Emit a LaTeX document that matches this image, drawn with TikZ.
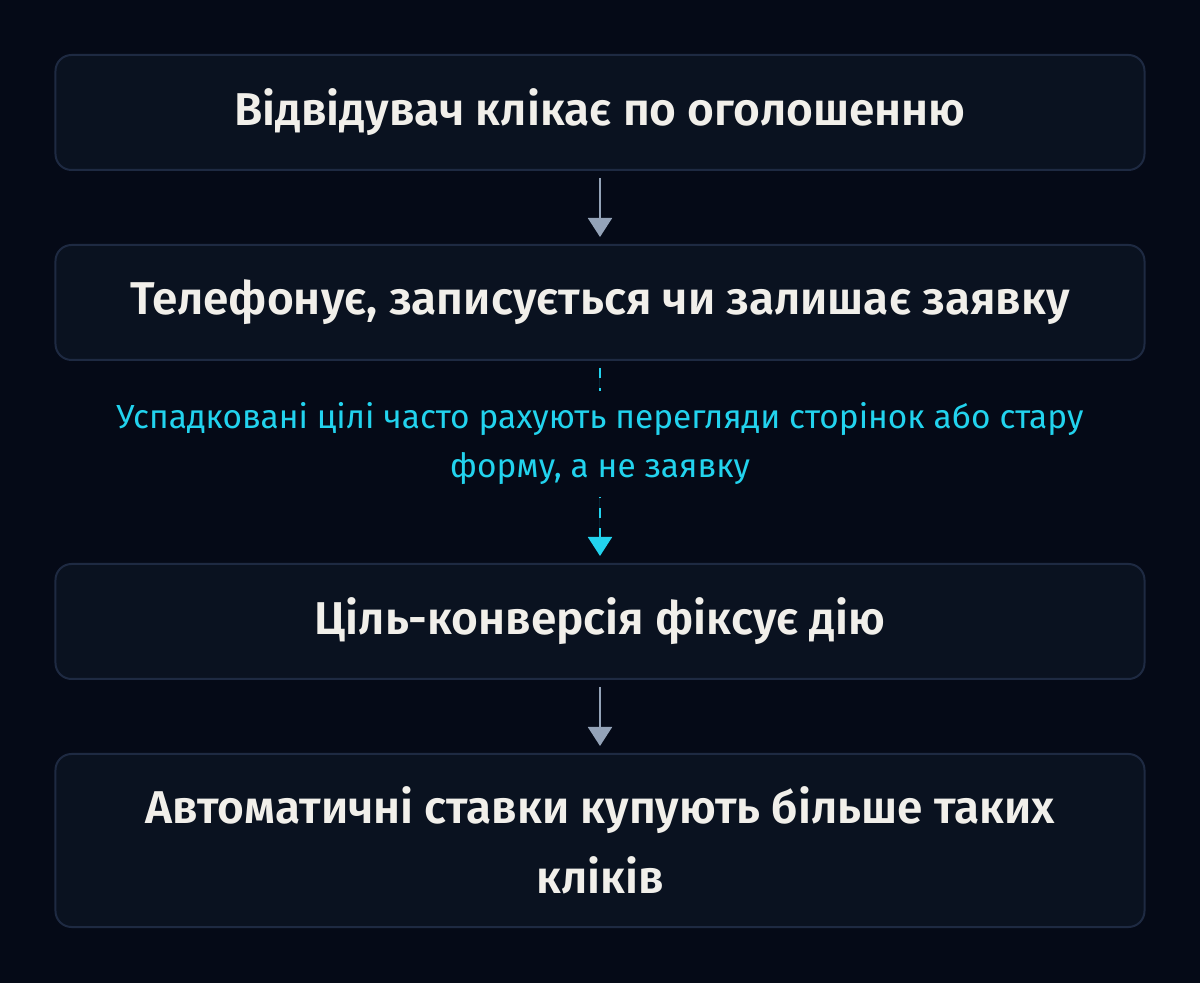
\documentclass[tikz,border=0pt]{standalone}
\usepackage{fontspec}
\setmainfont{Fira Sans}[BoldFont={* SemiBold}]
\usepackage{tikz}
\usetikzlibrary{arrows.meta,positioning,calc}
\definecolor{bg}{HTML}{050A17}
\definecolor{boxfill}{HTML}{0A1220}
\definecolor{boxline}{HTML}{1E2A42}
\definecolor{boxtext}{HTML}{F1EFEA}
\definecolor{flowgray}{HTML}{94A3B8}
\definecolor{legacy}{HTML}{22D3EE}

\begin{document}
\begin{tikzpicture}[->,>={Triangle[width=12pt,length=9.5pt]},shorten >=4pt,shorten <=4pt,
line width=1pt]
\tikzstyle{stage}=[rectangle,rounded corners=8pt,fill=boxfill,draw=boxline,line width=1pt,
outer sep=0pt,minimum width=544.5pt,minimum height=57.5pt,text=boxtext,align=center,
font=\bfseries\fontsize{23}{35}\selectfont]
\tikzstyle{note}=[fill=bg,text=legacy,align=center,inner xsep=3pt,inner ysep=6pt,
font=\fontsize{16.7}{24.5}\selectfont]

\fill[bg] (-300pt,56.25pt) rectangle (300pt,-435.25pt);

\node[stage]        (visit)                          {Відвідувач клікає по оголошенню};
\node[stage]        (call)   [below=37.5pt of visit] {Телефонує, записується чи залишає заявку};
\node[stage]        (goal)   [below=102pt of call]   {Ціль-конверсія фіксує дію};
\node[stage,minimum height=86.5pt] (bids) [below=37.5pt of goal] {Автоматичні ставки купують більше таких\\кліків};

\path (visit) edge [draw=flowgray,fill=flowgray]  (call)
(call) edge [draw=legacy,fill=legacy,dash pattern=on 5pt off 5pt]
  node[note,pos=0.41,solid] {Успадковані цілі часто рахують перегляди сторінок або стару\\форму, а не заявку} (goal)
(goal) edge [draw=flowgray,fill=flowgray]  (bids);
\end{tikzpicture}
\end{document}
